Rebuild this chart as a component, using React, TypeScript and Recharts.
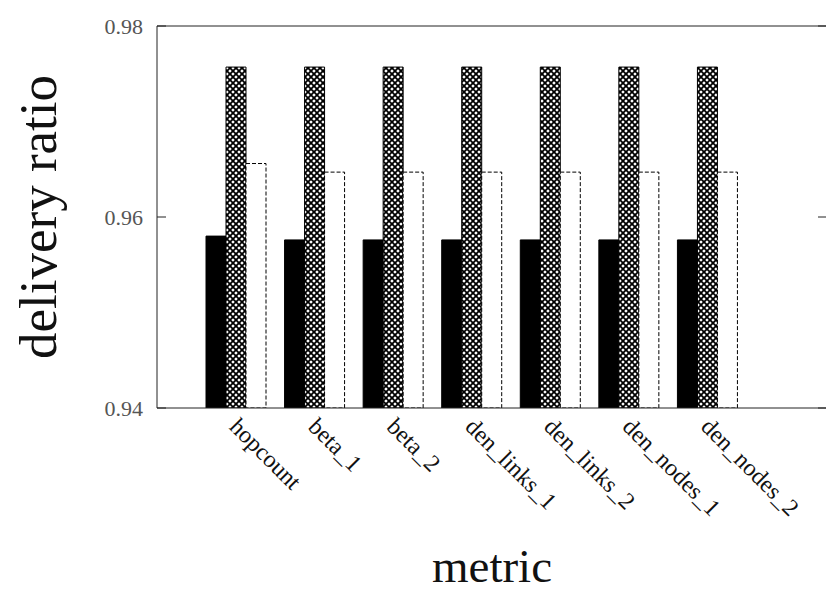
import { BarChart, Bar, XAxis, YAxis, ReferenceLine, Label } from "recharts";

const categories = [
  "hopcount",
  "beta_1",
  "beta_2",
  "den_links_1",
  "den_links_2",
  "den_nodes_1",
  "den_nodes_2",
];
const solidValues = [0.958, 0.9576, 0.9576, 0.9576, 0.9576, 0.9576, 0.9576];
const meshValues = [0.9757, 0.9757, 0.9757, 0.9757, 0.9757, 0.9757, 0.9757];
const dashedValues = [0.9656, 0.9647, 0.9647, 0.9647, 0.9647, 0.9647, 0.9647];
const yTicks = [0.94, 0.96, 0.98];

const data = categories.map((name, i) => ({
  name,
  solid: solidValues[i],
  mesh: meshValues[i],
  dashed: dashedValues[i],
}));

const serif = "'Liberation Serif', 'DejaVu Serif', serif";

const XTick = (props: any) => {
  const { x, y, payload } = props;
  const ty = y + 14;
  return (
    <text
      x={x - 2}
      y={ty}
      dy="0.35em"
      transform={`rotate(45 ${x - 2} ${ty})`}
      textAnchor="start"
      fontFamily={serif}
      fontSize={24}
      fill="#111"
    >
      {payload.value}
    </text>
  );
};

const EmptyTick = () => <g />;

export default function App() {
  return (
    <BarChart
      width={826}
      height={589}
      data={data}
      margin={{ top: 18, right: 2, bottom: 0, left: 0 }}
      barSize={20}
      barGap={0}
      style={{ fontFamily: serif }}
    >
      <defs>
        <pattern id="mesh" width="6" height="6" patternUnits="userSpaceOnUse">
          <rect width="6" height="6" fill="#fff" />
          <path d="M0,0 L6,6 M6,0 L0,6" stroke="#000" strokeWidth={1.8} />
        </pattern>
      </defs>
      <XAxis
        dataKey="name"
        height={189}
        padding={{ left: 40, right: 80 }}
        tickLine={false}
        tickSize={0}
        tickMargin={0}
        interval={0}
        axisLine={{ stroke: "#222" }}
        tick={<XTick />}
      >
        <Label
          content={(p: any) => {
            const vb = p.viewBox;
            return (
              <text
                x={vb.x + vb.width / 2}
                y={574}
                textAnchor="middle"
                fontFamily={serif}
                fontSize={47}
                fill="#111"
              >
                metric
              </text>
            );
          }}
        />
      </XAxis>
      <YAxis
        width={149}
        domain={[0.94, 0.98]}
        ticks={yTicks}
        allowDataOverflow
        tickSize={-9}
        tickMargin={23}
        tickFormatter={(v: number) => v.toFixed(2)}
        axisLine={{ stroke: "#222" }}
        tickLine={{ stroke: "#222" }}
        tick={{ fontSize: 22, fill: "#555", fontFamily: serif }}
      >
        <Label
          content={(p: any) => {
            const vb = p.viewBox;
            const cy = vb.y + vb.height / 2;
            return (
              <text
                x={48}
                y={cy}
                transform={`rotate(-90 48 ${cy})`}
                textAnchor="middle"
                fontFamily={serif}
                fontSize={53}
                fill="#111"
              >
                delivery ratio
              </text>
            );
          }}
        />
      </YAxis>
      <YAxis
        yAxisId="right"
        orientation="right"
        width={5}
        domain={[0.94, 0.98]}
        ticks={yTicks}
        allowDataOverflow
        tickSize={-9}
        axisLine={{ stroke: "#222" }}
        tickLine={{ stroke: "#222" }}
        tick={<EmptyTick />}
      />
      <ReferenceLine y={0.98} stroke="#222" />
      <Bar dataKey="solid" fill="#000" stroke="#000" isAnimationActive={false} />
      <Bar
        dataKey="mesh"
        fill="url(#mesh)"
        stroke="#000"
        isAnimationActive={false}
      />
      <Bar
        dataKey="dashed"
        fill="#fff"
        stroke="#000"
        strokeDasharray="4 2"
        isAnimationActive={false}
      />
    </BarChart>
  );
}
